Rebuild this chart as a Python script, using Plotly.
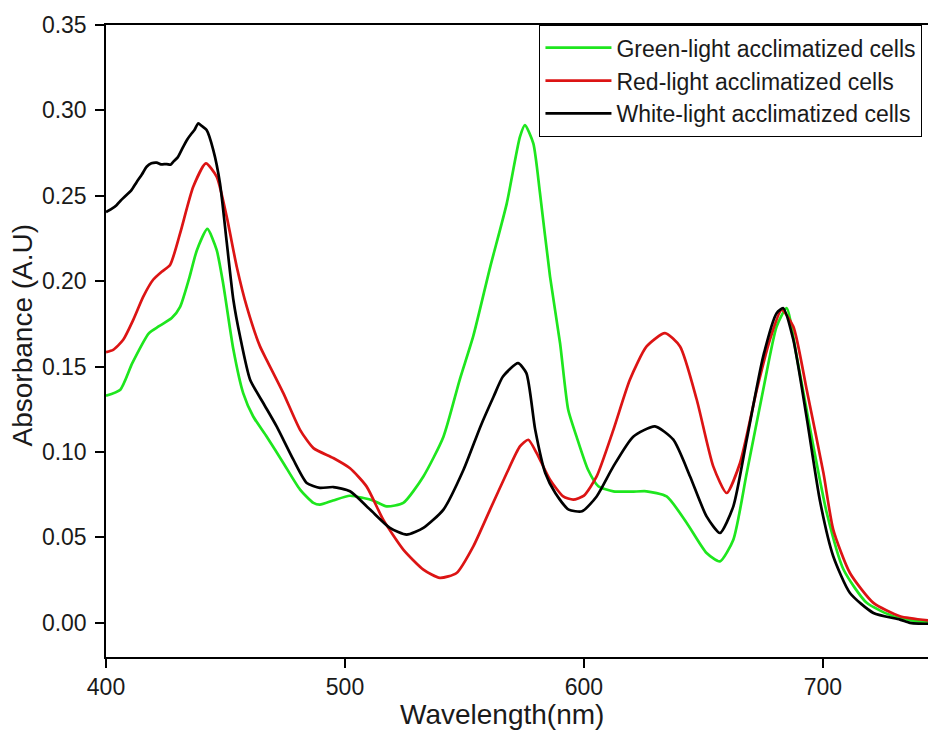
import plotly.graph_objects as go

# ---- data ----
green_wl = [400, 406, 411, 418, 422, 427.5, 431, 435, 438, 442.4, 446.3, 449, 453.3, 457.4, 461.6,
            467.2, 474.2, 481.2, 486.8, 489.5, 495, 502, 507.7, 512, 517.4, 524.4, 532.8, 541.2,
            548, 553.7, 560.7, 567.7, 573.2, 575.3, 578.8, 581.6, 585.8, 590, 593.4, 596.9, 601.7,
            606, 612.3, 620, 626.2, 634.6, 643, 651.3, 656.9, 662.5, 668.1, 675, 680.6, 684.8,
            689, 696, 701.6, 708.6, 718.3, 729.4, 739.2, 747.5]
green_abs = [0.133, 0.1365, 0.152, 0.1696, 0.1735, 0.1784, 0.185, 0.2027, 0.218, 0.2306, 0.2183, 0.1988,
             0.160, 0.1345, 0.1208, 0.1091, 0.0936, 0.078, 0.0702, 0.0692, 0.0716, 0.0744, 0.0731, 0.0715,
             0.0682, 0.0702, 0.0857, 0.109, 0.1423, 0.1680, 0.2080, 0.2456, 0.2845, 0.2914, 0.2807,
             0.2515, 0.2027, 0.1637, 0.1247, 0.109, 0.0896, 0.080, 0.0770, 0.0768, 0.0770, 0.0740,
             0.0585, 0.0409, 0.036, 0.0487, 0.0877, 0.1364, 0.1734, 0.1842, 0.156, 0.1033, 0.0643,
             0.0312, 0.0117, 0.0039, 0.001, 0.0]

red_wl = [400, 403, 407.2, 411.4, 415.6, 419.8, 423.3, 426.8, 431, 436.5, 441.8, 446.3, 450.5, 454.7,
          458.9, 464.4, 467.2, 474.2, 481.2, 486.8, 495.1, 502.1, 509, 516, 524.4, 532.8, 539.7,
          546.7, 553.7, 560.7, 567.7, 573.2, 576.7, 580.2, 585.8, 591.3, 595.5, 600, 605.3, 612.3,
          619.2, 626.2, 633.9, 640.2, 647.2, 654.1, 659.7, 665.3, 672.3, 677.8, 682.7, 687.6,
          693.2, 700.2, 704.3, 711.3, 721.1, 732.2, 747.5]
red_abs = [0.1585, 0.1598, 0.1657, 0.1774, 0.191, 0.2010, 0.2056, 0.2095, 0.228, 0.2553, 0.269, 0.2612,
           0.2378, 0.2085, 0.1851, 0.1620, 0.154, 0.1345, 0.113, 0.1023, 0.0965, 0.0905, 0.0799,
           0.0604, 0.0429, 0.0312, 0.0263, 0.0292, 0.0448, 0.0663, 0.0877, 0.1033, 0.1072, 0.0994,
           0.0838, 0.074, 0.0721, 0.0745, 0.0857, 0.113, 0.1423, 0.1618, 0.1696, 0.1618, 0.1306,
           0.0916, 0.076, 0.0936, 0.1364, 0.1657, 0.1832, 0.1734, 0.1364, 0.0877, 0.0546, 0.0292,
           0.0117, 0.0039, 0.001]

white_wl = [400, 402, 404.4, 406, 408.6, 410.5, 412.8, 415, 417, 419, 421.2, 423, 425.4, 427, 428.2,
            430, 432.3, 434, 435.8, 437, 438.6, 440, 442.1, 444.9, 447.7, 450.5, 453.3, 456.1,
            460.3, 465.8, 471.4, 478.4, 484, 489.5, 495.1, 502.1, 510.5, 518.8, 525.8, 532.8,
            541.2, 549.6, 556.7, 562.2, 566.1, 572.4, 575.9, 579.6, 583.8, 588, 593.6, 599.2,
            605.3, 612.3, 620.6, 629.7, 637.4, 644.4, 651.3, 656.9, 662.5, 668.1, 675, 680.6,
            683.4, 687.6, 693.2, 698.8, 704.3, 711.3, 721.1, 732.2, 736.4, 740, 747.5]
white_abs = [0.2405, 0.2420, 0.2445, 0.2470, 0.2505, 0.2530, 0.2580, 0.2625, 0.2670, 0.2690, 0.2694,
             0.2684, 0.2686, 0.2682, 0.2700, 0.2725, 0.2787, 0.2830, 0.2865, 0.2885, 0.2924, 0.2910,
             0.2885, 0.2768, 0.2573, 0.2230, 0.189, 0.1676, 0.1423, 0.1287, 0.115, 0.0955, 0.0819,
             0.079, 0.0795, 0.077, 0.0663, 0.0556, 0.0516, 0.0556, 0.0663, 0.0896, 0.115, 0.1325,
             0.1442, 0.152, 0.1462, 0.113, 0.0877, 0.076, 0.0663, 0.0653, 0.074, 0.0916, 0.109,
             0.115, 0.1072, 0.0857, 0.0623, 0.0526, 0.0682, 0.1072, 0.156, 0.1813, 0.1842, 0.1657,
             0.120, 0.071, 0.039, 0.0175, 0.0058, 0.0019, 0.0, -0.0005, -0.0005]

series_names = ["Green-light acclimatized cells", "Red-light acclimatized cells",
                "White-light acclimatized cells"]
x_ticks = [400, 500, 600, 700]
y_ticks = [0.00, 0.05, 0.10, 0.15, 0.20, 0.25, 0.30, 0.35]

FONT = "Arial, 'Liberation Sans', sans-serif"
TXT = "#1a1a1a"

fig = go.Figure()
for wl, ab, name, color in [
    (green_wl, green_abs, series_names[0], "#1ee61e"),
    (red_wl, red_abs, series_names[1], "#dc1414"),
    (white_wl, white_abs, series_names[2], "#000000"),
]:
    fig.add_trace(go.Scatter(x=wl, y=ab, mode="lines", name=name,
                             line=dict(color=color, width=2.7, shape="spline", smoothing=0.6)))

# page body has an 8px margin, so the figure is 8px smaller and shifted accordingly
fig.update_layout(
    width=928, height=723,
    margin=dict(l=98, r=0, t=17, b=74, autoexpand=False),
    paper_bgcolor="white", plot_bgcolor="white",
    font=dict(family=FONT, size=23, color=TXT),
    showlegend=True,
    legend=dict(x=0.522, y=1.0, xanchor="left", yanchor="top",
                bordercolor="black", borderwidth=1.2, bgcolor="white",
                font=dict(family=FONT, size=23, color=TXT),
                tracegroupgap=0, itemwidth=66),
    xaxis=dict(range=[400, 747.3], tickvals=x_ticks, ticktext=[str(v) for v in x_ticks],
               showgrid=False, zeroline=False, showline=True, linecolor="black", linewidth=1.5,
               mirror=True, ticks="outside", ticklen=9, tickwidth=1.5, tickcolor="black",
               tickfont=dict(size=23), automargin=False),
    yaxis=dict(range=[-0.02, 0.35], tickvals=y_ticks, ticktext=[f"{v:.2f}" for v in y_ticks],
               showgrid=False, zeroline=False, showline=True, linecolor="black", linewidth=1.5,
               ticks="outside", ticklen=9, tickwidth=1.5, tickcolor="black",
               tickfont=dict(size=23), ticklabelstandoff=4, automargin=False),
    annotations=[
        dict(text="Wavelength(nm)", xref="paper", yref="paper", x=0.477, y=-0.0905,
             xanchor="center", yanchor="middle", showarrow=False,
             font=dict(family=FONT, size=28, color=TXT)),
        dict(text="Absorbance (A.U)", xref="paper", yref="paper", x=-0.101, y=0.509,
             xanchor="center", yanchor="middle", showarrow=False, textangle=-90,
             font=dict(family=FONT, size=28, color=TXT)),
    ],
)

fig.write_html("out.html")
